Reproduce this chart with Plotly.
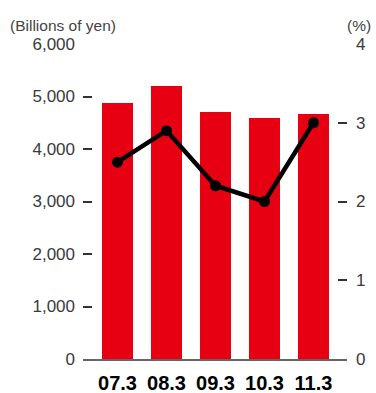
import plotly.graph_objects as go

# Fiscal year-end labels
periods = ["07.3", "08.3", "09.3", "10.3", "11.3"]
# Amount (billions of yen), left axis
amounts = [4876, 5200, 4705, 4590, 4667]
# Ratio (%), right axis
ratios = [2.5, 2.9, 2.2, 2.0, 3.0]

left_ticks = [0, 1000, 2000, 3000, 4000, 5000, 6000]
left_tick_text = ["0", "1,000", "2,000", "3,000", "4,000", "5,000", "6,000"]
right_ticks = [0, 1, 2, 3, 4]

RED = "#E60012"
TICK_FONT = dict(family="Liberation Sans, Arial, sans-serif", size=17, color="#3a3a3a")

fig = go.Figure()
fig.add_trace(go.Bar(
    x=periods, y=amounts, marker=dict(color=RED, line=dict(width=0)),
    width=0.633, yaxis="y", showlegend=False,
))
fig.add_trace(go.Scatter(
    x=periods, y=ratios, mode="lines+markers", yaxis="y2",
    line=dict(color="#000000", width=4.5),
    marker=dict(color="#000000", size=11),
    showlegend=False,
))

fig.update_layout(
    width=376, height=393,
    margin=dict(l=83, r=29, t=44, b=34),
    paper_bgcolor="white", plot_bgcolor="white",
    xaxis=dict(
        type="category", range=[-0.704, 4.684], automargin=False,
        showline=True, linecolor="#666666", linewidth=2,
        ticks="", showgrid=False, zeroline=False,
        tickfont=dict(family="Liberation Sans, Arial, sans-serif", size=20, color="#000000", weight="bold"),
        ticklabelstandoff=5,
    ),
    yaxis=dict(
        range=[0, 6000], tickvals=left_ticks, ticktext=left_tick_text, automargin=False,
        ticks="inside", ticklen=9, tickwidth=1.5, tickcolor="#333333",
        showgrid=False, zeroline=False, showline=False,
        tickfont=TICK_FONT, ticklabelstandoff=7,
    ),
    yaxis2=dict(
        range=[0, 4], tickvals=right_ticks, overlaying="y", side="right", automargin=False,
        ticks="inside", ticklen=9, tickwidth=1.5, tickcolor="#333333",
        showgrid=False, zeroline=False, showline=False,
        tickfont=TICK_FONT, ticklabelstandoff=8,
    ),
    annotations=[
        dict(text="(Billions of yen)", xref="paper", yref="paper", x=-0.284, y=1.0,
             yshift=19, xanchor="left", yanchor="middle", showarrow=False,
             font=dict(family="Liberation Sans, Arial, sans-serif", size=15.5, color="#444444")),
        dict(text="(%)", xref="paper", yref="paper", x=1.098, y=1.0,
             yshift=19, xanchor="right", yanchor="middle", showarrow=False,
             font=dict(family="Liberation Sans, Arial, sans-serif", size=15.5, color="#444444")),
    ],
)

fig.write_html("out.html")
